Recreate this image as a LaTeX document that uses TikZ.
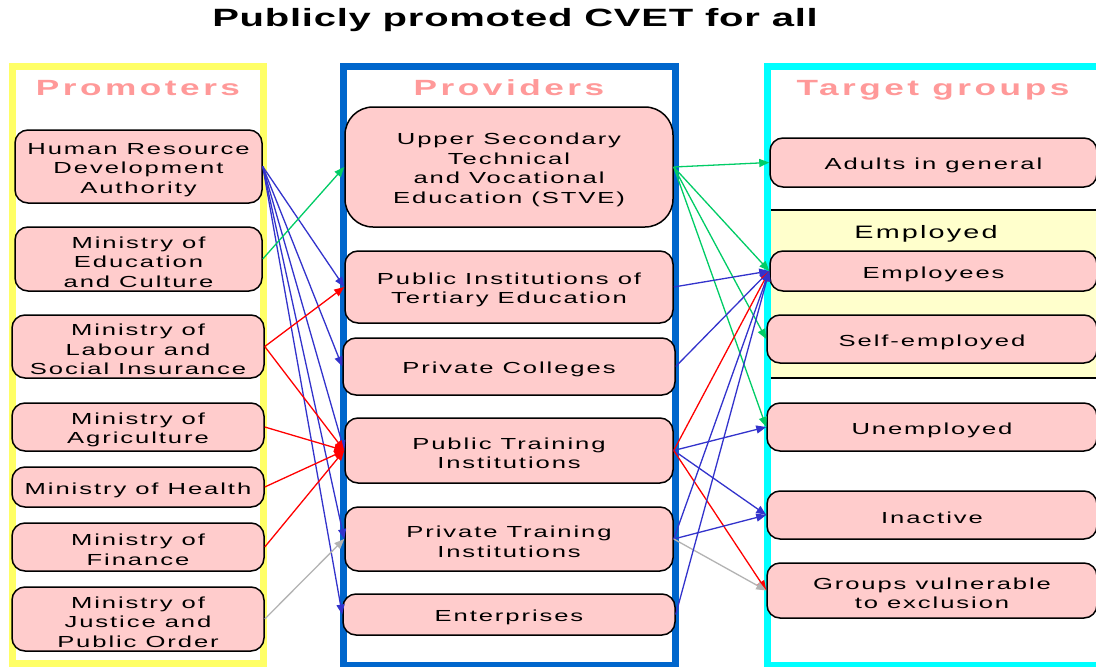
\documentclass[tikz,border=0pt]{standalone}
\usepackage{fontspec}
\usetikzlibrary{arrows.meta}
\setmainfont{Liberation Sans}
\newfontfamily\boxfont[FakeStretch=1.6,LetterSpace=12]{Liberation Sans}
\newfontfamily\headfont[FakeStretch=1.6,LetterSpace=16]{Liberation Sans}
\newfontfamily\titlefont[FakeStretch=1.6,LetterSpace=3]{Liberation Sans}
\newcommand\tstrut{\rule{0pt}{17.5pt}}
\definecolor{frameyellow}{HTML}{FFFF66}
\definecolor{frameblue}{HTML}{0066CC}
\definecolor{framecyan}{HTML}{00FFFF}
\definecolor{boxpink}{HTML}{FFCCCC}
\definecolor{headpink}{HTML}{FF9999}
\definecolor{bandyellow}{HTML}{FFFFCC}
\definecolor{arrblue}{HTML}{3333CC}
\definecolor{arrred}{HTML}{FF0000}
\definecolor{arrgreen}{HTML}{00CC66}
\definecolor{arrgray}{HTML}{B3B3B3}
\tikzset{
  pbox/.style={draw=black, line width=1.5pt, fill=boxpink, rounded corners=13pt,
    inner sep=0pt, align=center, font=\boxfont\fontsize{16}{19.5}\selectfont},
  headtext/.style={anchor=base, text=headpink, font=\headfont\bfseries\fontsize{22}{26}\selectfont},
  frame/.style={line width=7pt},
  arr/.style={line width=1.3pt, -{Triangle[length=10pt,width=8pt]}},
  ab/.style={arr, arrblue},
  ar/.style={arr, arrred},
  ag/.style={arr, arrgreen},
  agy/.style={arr, arrgray},
}
\begin{document}
\begin{tikzpicture}[x=1pt,y=-1pt]
\useasboundingbox (0,0) rectangle (1096,667);
\clip (0,0) rectangle (1096,667);
\fill[white] (0,0) rectangle (1096,667);

% title
\node[anchor=base, font=\titlefont\bfseries\fontsize{25}{30}\selectfont] (title) at (515,26) {Publicly promoted CVET for all};

% frames
\draw[frame, frameyellow] (12.5,66.5) rectangle (263.5,663.5);
\draw[frame, frameblue] (343.5,66.5) rectangle (675,665);
\draw[frame, framecyan] (767.5,66.5) rectangle (1110,665);

% employed band
\fill[bandyellow] (771,210) rectangle (1110,378);
\draw[line width=1.5pt] (771,210) -- (1110,210);
\draw[line width=1.5pt] (771,378) -- (1110,378);
\node[anchor=base, font=\boxfont\fontsize{18}{22}\selectfont] (employed) at (926,238) {Employed};

% headers
\node[headtext] (hpro) at (138,95) {Promoters};
\node[headtext] (hprov) at (509,95) {Providers};
\node[headtext] (htarget) at (933,95) {Target groups};

% promoters
\node[pbox, minimum width=247pt, minimum height=73pt] (hrda) at (138.5,166.5) {\tstrut Human Resource\\Development\\Authority};
\node[pbox, minimum width=247pt, minimum height=64pt] (moec) at (138.5,259) {\tstrut Ministry of\\Education\\and Culture};
\node[pbox, minimum width=252pt, minimum height=63pt] (mlsi) at (138,346.5) {\tstrut Ministry of\\Labour and\\Social Insurance};
\node[pbox, minimum width=252pt, minimum height=48pt] (agri) at (138,427) {\tstrut Ministry of\\Agriculture};
\node[pbox, minimum width=252pt, minimum height=40pt] (health) at (138,487) {\tstrut Ministry of Health};
\node[pbox, minimum width=252pt, minimum height=48pt] (fin) at (138,547) {\tstrut Ministry of\\Finance};
\node[pbox, minimum width=252pt, minimum height=64pt] (just) at (138,619) {\tstrut Ministry of\\Justice and\\Public Order};

% providers
\node[pbox, rounded corners=28pt, minimum width=328pt, minimum height=120pt] (stve) at (509,167) {\tstrut Upper Secondary\\Technical\\and Vocational\\Education (STVE)};
\node[pbox, minimum width=328pt, minimum height=72pt] (pite) at (509,287) {\tstrut Public Institutions of\\Tertiary Education};
\node[pbox, minimum width=332pt, minimum height=57pt] (pcol) at (509,366.5) {\tstrut Private Colleges};
\node[pbox, minimum width=328pt, minimum height=65pt] (ptrain) at (509,450.5) {\tstrut Public Training\\Institutions};
\node[pbox, minimum width=328pt, minimum height=64pt] (prtrain) at (509,539) {\tstrut Private Training\\Institutions};
\node[pbox, minimum width=332pt, minimum height=41pt] (ent) at (509,614.5) {\tstrut Enterprises};

% target groups
\node[pbox, minimum width=327pt, minimum height=49pt] (adults) at (933.5,162.5) {\tstrut Adults in general};
\node[pbox, minimum width=327pt, minimum height=40pt] (emp) at (933.5,271) {\tstrut Employees};
\node[pbox, minimum width=330pt, minimum height=48pt] (self) at (932,339) {\tstrut Self-employed};
\node[pbox, minimum width=330pt, minimum height=48pt] (unemp) at (932,427) {\tstrut Unemployed};
\node[pbox, minimum width=330pt, minimum height=48pt] (inact) at (932,515) {\tstrut Inactive};
\node[pbox, minimum width=330pt, minimum height=55pt] (grp) at (932,590.5) {\tstrut Groups vulnerable\\to exclusion};

% left connectors
\draw[ab] (hrda.east) -- (pite.west);
\draw[ab] (hrda.east) -- (pcol.west);
\draw[ab] (hrda.east) -- (ptrain.west);
\draw[ab] (hrda.east) -- (prtrain.west);
\draw[ab] (hrda.east) -- (ent.west);
\draw[ag] (moec.east) -- (stve.west);
\draw[ar] (mlsi.east) -- (pite.west);
\draw[ar] (mlsi.east) -- (ptrain.west);
\draw[ar] (agri.east) -- (ptrain.west);
\draw[ar] (health.east) -- (ptrain.west);
\draw[ar] (fin.east) -- (ptrain.west);
\draw[agy] (just.east) -- (prtrain.west);

% right connectors
\draw[ag] (stve.east) -- (adults.west);
\draw[ag] (stve.east) -- (emp.west);
\draw[ag] (stve.east) -- (self.west);
\draw[ag] (stve.east) -- (unemp.west);
\draw[ab] (pite.east) -- (emp.west);
\draw[ab] (pcol.east) -- (emp.west);
\draw[ar] (ptrain.east) -- (emp.west);
\draw[ab] (ptrain.east) -- (unemp.west);
\draw[ab] (ptrain.east) -- (inact.west);
\draw[ar] (ptrain.east) -- (grp.west);
\draw[ab] (prtrain.east) -- (emp.west);
\draw[ab] (prtrain.east) -- (inact.west);
\draw[agy] (prtrain.east) -- (grp.west);
\draw[ab] (ent.east) -- (emp.west);
\end{tikzpicture}
\end{document}
